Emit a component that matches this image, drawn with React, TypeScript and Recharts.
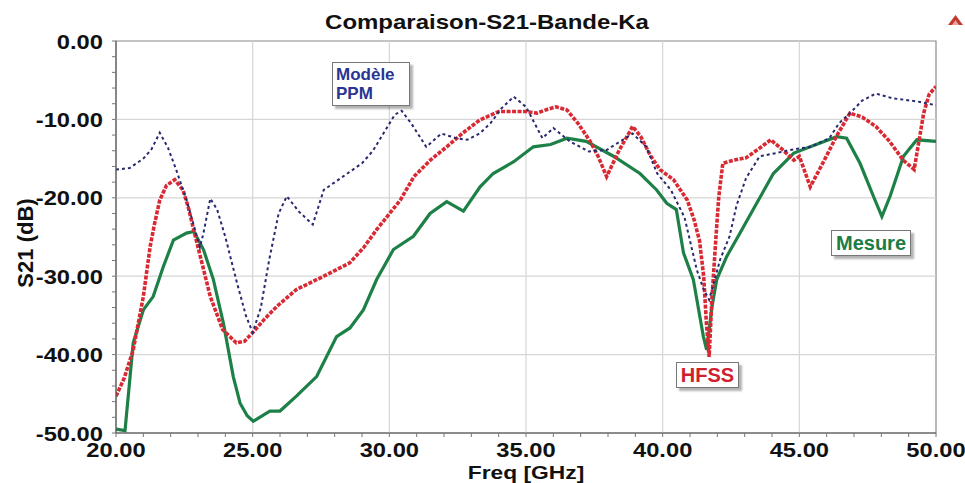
import React from "react";
import { LineChart, Line, XAxis, YAxis, ReferenceLine, ReferenceArea } from "recharts";

const X_TICKS = [20, 21, 22, 23, 24, 25, 26, 27, 28, 29, 30, 31, 32, 33, 34, 35, 36, 37, 38, 39, 40, 41, 42, 43, 44, 45, 46, 47, 48, 49, 50];
const X_LABELED = [20, 25, 30, 35, 40, 45, 50];
const Y_TICKS = [0, -2, -4, -6, -8, -10, -12, -14, -16, -18, -20, -22, -24, -26, -28, -30, -32, -34, -36, -38, -40, -42, -44, -46, -48, -50];
const Y_LABELED = [0, -10, -20, -30, -40, -50];
const X_GRID = [25, 30, 35, 40, 45];
const Y_GRID = [-10, -20, -30, -40];

// Mesure (green, solid)
const MESURE_F = [20, 20.33, 20.63, 21.0, 21.36, 21.73, 22.1, 22.58, 22.85, 23.2, 23.56, 23.93, 24.29, 24.54, 24.8, 25.02, 25.3, 25.63, 26.0, 26.6, 27.34, 28.07, 28.56, 29.05, 29.54, 30.15, 30.88, 31.49, 32.1, 32.71, 33.32, 33.8, 34.55, 35.27, 35.9, 36.5, 37.2, 38.2, 39.17, 39.78, 40.15, 40.5, 40.76, 41.12, 41.49, 41.61, 41.8, 41.98, 42.34, 42.83, 43.44, 44.05, 44.8, 45.4, 46.37, 46.73, 47.22, 47.71, 48.02, 48.32, 48.81, 49.3, 50];
const MESURE_DB = [-49.5, -49.7, -38.5, -34.3, -32.6, -28.8, -25.4, -24.5, -24.3, -26.6, -30.4, -36.0, -42.8, -46.2, -47.8, -48.5, -47.9, -47.2, -47.2, -45.3, -42.8, -37.7, -36.6, -34.3, -30.4, -26.6, -24.9, -22.0, -20.5, -21.7, -18.6, -16.9, -15.4, -13.5, -13.2, -12.4, -12.8, -14.7, -16.9, -19.0, -20.7, -21.5, -27.0, -30.4, -37.7, -39.4, -34.0, -30.4, -27.5, -24.5, -20.7, -16.9, -14.3, -13.5, -12.2, -12.4, -15.6, -19.8, -22.4, -19.8, -14.7, -12.6, -12.8];

// HFSS (red, dashed)
const HFSS_F = [20, 20.3, 20.63, 21.0, 21.25, 21.4, 21.6, 21.85, 22.15, 22.45, 22.65, 22.85, 23.0, 23.45, 23.9, 24.4, 24.7, 25.0, 25.4, 25.9, 26.6, 27.6, 28.55, 29.05, 29.55, 30.4, 30.9, 31.5, 32.1, 32.7, 33.3, 34.0, 35.0, 35.4, 35.8, 36.1, 36.5, 36.9, 37.35, 37.65, 37.95, 38.4, 38.9, 39.2, 39.55, 39.9, 40.4, 40.9, 41.15, 41.35, 41.5, 41.6, 41.7, 41.8, 41.95, 42.05, 42.2, 42.6, 43.05, 43.5, 43.95, 44.4, 44.8, 45.0, 45.4, 45.9, 46.35, 46.85, 47.3, 47.8, 48.3, 48.8, 49.2, 49.55, 49.75, 50];
const HFSS_DB = [-45.3, -43.0, -39.4, -32.6, -26.2, -23.5, -20.3, -18.4, -17.7, -19.0, -21.3, -24.2, -26.3, -32.6, -36.8, -38.5, -38.3, -37.2, -35.6, -33.8, -31.7, -30.0, -28.3, -26.4, -24.0, -20.3, -17.3, -15.2, -13.5, -11.7, -10.1, -9.0, -9.0, -9.2, -8.7, -8.4, -8.8, -10.5, -12.8, -14.8, -17.3, -14.0, -10.9, -12.2, -14.6, -16.4, -17.7, -20.3, -22.8, -25.5, -30.0, -36.0, -40.3, -33.0, -25.0, -20.0, -15.6, -15.2, -14.9, -13.8, -12.6, -13.9, -15.2, -14.7, -18.6, -15.3, -12.2, -9.2, -9.7, -10.9, -12.8, -15.2, -16.4, -9.2, -6.8, -5.8];

// Modèle PPM (navy, dotted)
const PPM_F = [20, 20.5, 21.0, 21.3, 21.6, 21.9, 22.2, 22.6, 23.07, 23.2, 23.45, 23.7, 24.0, 24.4, 24.75, 25.0, 25.3, 25.6, 25.95, 26.25, 26.7, 27.2, 27.6, 28.3, 29.0, 29.4, 29.8, 30.2, 30.45, 30.8, 31.35, 31.9, 32.45, 32.85, 33.3, 33.7, 34.1, 34.55, 35.0, 35.6, 36.0, 36.6, 37.3, 37.95, 38.5, 38.9, 39.4, 39.8, 40.3, 40.8, 41.25, 41.5, 41.7, 41.9, 42.1, 42.45, 42.7, 43.05, 43.55, 44.15, 44.65, 45.4, 46.1, 46.45, 46.85, 47.3, 47.8, 48.4, 49.3, 50];
const PPM_DB = [-16.4, -16.2, -15.0, -13.8, -11.7, -13.6, -16.4, -20.5, -26.3, -24.5, -20.1, -21.5, -25.0, -30.5, -35.0, -37.2, -34.0, -28.0, -22.0, -19.8, -21.8, -23.4, -19.0, -17.3, -15.6, -14.0, -11.7, -9.4, -8.9, -10.5, -13.5, -11.8, -12.4, -12.6, -11.8, -10.5, -8.6, -7.1, -8.4, -12.4, -11.1, -12.8, -14.1, -13.9, -12.7, -11.8, -13.5, -16.9, -19.0, -22.5, -29.2, -31.7, -33.0, -30.5, -27.9, -24.9, -21.0, -17.5, -14.7, -14.3, -13.9, -13.5, -12.4, -10.5, -9.2, -7.6, -6.7, -7.3, -7.7, -8.2];

const toPoints = (f: number[], db: number[]) => f.map((v, i) => ({ f: v, db: db[i] }));
const mesure = toPoints(MESURE_F, MESURE_DB);
const hfss = toPoints(HFSS_F, HFSS_DB);
const ppm = toPoints(PPM_F, PPM_DB);

const FONT = "'Liberation Sans', Arial, sans-serif";

function XTick(props: any) {
  const { x, y, payload } = props;
  if (!X_LABELED.includes(payload.value)) return <g />;
  return (
    <g transform={`translate(${x},${y + 20}) scale(1.13,1)`}>
      <text textAnchor="middle" fontFamily={FONT} fontWeight="bold" fontSize={21} fill="#111">
        {Number(payload.value).toFixed(2)}
      </text>
    </g>
  );
}

function YTick(props: any) {
  const { x, y, payload } = props;
  if (!Y_LABELED.includes(payload.value)) return <g />;
  return (
    <g transform={`translate(${x - 9},${y + 7.5}) scale(1.13,1)`}>
      <text textAnchor="end" fontFamily={FONT} fontWeight="bold" fontSize={21} fill="#111">
        {Number(payload.value).toFixed(2)}
      </text>
    </g>
  );
}

const boxStyle: React.CSSProperties = {
  position: "absolute",
  background: "#fff",
  border: "1px solid #777",
  boxShadow: "3px 3px 2px rgba(0,0,0,0.3)",
  fontFamily: FONT,
  fontWeight: "bold",
  boxSizing: "border-box",
};

export default function App() {
  return (
    <div style={{ position: "absolute", left: 0, top: 0, width: 965, height: 483, background: "#fff", overflow: "hidden" }}>
      <LineChart
        width={965}
        height={483}
        margin={{ top: 41, right: 29, bottom: 0, left: 0 }}
      >
        <XAxis
          type="number"
          dataKey="f"
          domain={[20, 50]}
          ticks={X_TICKS}
          interval={0}
          allowDataOverflow
          height={50}
          tickSize={4}
          tickMargin={0}
          stroke="#555"
          tickLine={{ stroke: "#777" }}
          tick={<XTick />}
        />
        <YAxis
          type="number"
          dataKey="db"
          domain={[-50, 0]}
          ticks={Y_TICKS}
          interval={0}
          allowDataOverflow
          width={116}
          tickSize={4}
          tickMargin={0}
          stroke="#555"
          tickLine={{ stroke: "#777" }}
          tick={<YTick />}
        />
        <ReferenceArea x1={20} x2={50} y1={-50} y2={0} fill="#fff" fillOpacity={0} stroke="#8a8a8a" strokeWidth={1.2} />
        {X_GRID.map((v) => (
          <ReferenceLine key={"x" + v} x={v} stroke="#d6d6d6" strokeWidth={1.2} />
        ))}
        {Y_GRID.map((v) => (
          <ReferenceLine key={"y" + v} y={v} stroke="#d6d6d6" strokeWidth={1.2} />
        ))}
        <Line
          data={mesure}
          dataKey="db"
          type="linear"
          stroke="#1d8047"
          strokeWidth={3.2}
          dot={false}
          isAnimationActive={false}
        />
        <Line
          data={hfss}
          dataKey="db"
          type="linear"
          stroke="#d92a34"
          strokeWidth={3.6}
          strokeDasharray="4 1.5"
          dot={false}
          isAnimationActive={false}
        />
        <Line
          data={ppm}
          dataKey="db"
          type="linear"
          stroke="#28296e"
          strokeWidth={2}
          strokeDasharray="3 3"
          dot={false}
          isAnimationActive={false}
        />
      </LineChart>

      <svg width={965} height={483} style={{ position: "absolute", left: 0, top: 0, pointerEvents: "none" }}>
        <g transform="translate(487,29) scale(1.2,1)">
          <text textAnchor="middle" fontFamily={FONT} fontWeight="bold" fontSize={20} fill="#111">
            Comparaison-S21-Bande-Ka
          </text>
        </g>
        <text
          transform="translate(33,243) rotate(-90)"
          textAnchor="middle"
          fontFamily={FONT}
          fontWeight="bold"
          fontSize={22}
          fill="#111"
        >
          S21 (dB)
        </text>
        <g transform="translate(526,479) scale(1.2,1)">
          <text textAnchor="middle" fontFamily={FONT} fontWeight="bold" fontSize={19} fill="#111">
            Freq [GHz]
          </text>
        </g>
        <polygon points="948,25 955.5,15 963,25" fill="#c0392b" />
        <polygon points="952,25 955.5,20 959,25" fill="#e8a0a0" />
      </svg>

      <div style={{ ...boxStyle, left: 332, top: 62, width: 78, height: 44, color: "#2a3593", fontSize: 17, lineHeight: "19px", padding: "2px 0 0 3px" }}>
        Modèle
        <br />
        PPM
      </div>
      <div style={{ ...boxStyle, left: 676, top: 362, width: 63, height: 26, color: "#d0202e", fontSize: 20, display: "flex", alignItems: "center", justifyContent: "center" }}>
        HFSS
      </div>
      <div style={{ ...boxStyle, left: 831, top: 230, width: 80, height: 26, color: "#1b7d43", fontSize: 20, display: "flex", alignItems: "center", justifyContent: "center" }}>
        Mesure
      </div>
    </div>
  );
}
